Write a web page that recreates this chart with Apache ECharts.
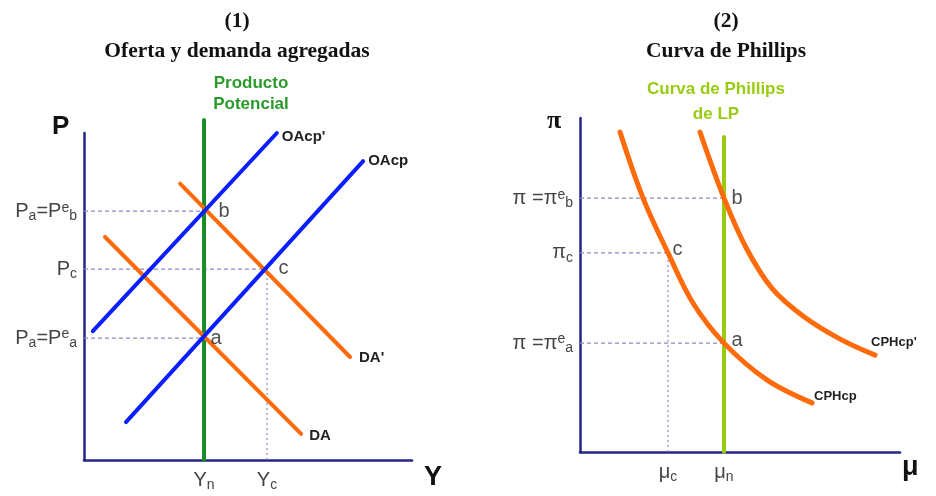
<!DOCTYPE html>
<html>
<head>
<meta charset="utf-8">
<script src="https://cdn.jsdelivr.net/npm/echarts@6/dist/echarts.min.js"></script>
<style>html,body{margin:0;padding:0;background:#fff}#c{width:936px;height:496px}</style>
</head>
<body>
<div id="c"></div>
<script>
// ---- Panel 1: Oferta y demanda agregadas ----
const Yn = 36.6, Yc = 55.8;
const Pa = 37.3, Pc = 58.4, Pb = 76.1;
const xTicks1 = [Yn, Yc];
const xTickLabels1 = ['Y{sub|n}', 'Y{sub|c}'];
const yTicks1 = [Pa, Pc, Pb];
const yTickLabels1 = ['P{sub|a}=P{sup|e}{sub|a}', 'P{sub|c}', 'P{sub|a}=P{sup|e}{sub|b}'];
const OAcp = [[12.8, 11.6], [85.1, 91.4]];
const OAcpPrime = [[2.7, 39.4], [58.8, 100]];
const DA = [[6.4, 68.2], [66.2, 8.0]];
const DAPrime = [[29.3, 84.5], [81.1, 31.5]];
const ProductoPotencial = [[Yn, 0], [Yn, 104]];

// ---- Panel 2: Curva de Phillips ----
const mu_n = 45, mu_c = 27.5;
const pi_a = 32.6, pi_c = 59.6, pi_b = 76.0;
const xTicks2 = [mu_c, mu_n];
const xTickLabels2 = ['μ{sub|c}', 'μ{sub|n}'];
const yTicks2 = [pi_a, pi_c, pi_b];
const yTickLabels2 = ['π =π{sup|e}{sub|a}', 'π{sub|c}', 'π =π{sup|e}{sub|b}'];
const CPHcp = [[12.5, 95.8], [19.7, 76.0], [27.5, 59.6], [35.3, 44.6], [45, 32.6], [58.4, 21.6], [72.5, 14.7]];
const CPHcpPrime = [[37.5, 95.8], [45, 76.0], [52, 61.0], [60, 49.0], [70, 40.5], [81.3, 33.8], [92.2, 29.0]];
const CPLP = [[mu_n, 0], [mu_n, 94.3]];

const NAVY = '#23238c', BLUE = '#0a1eff', ORANGE = '#ff6a0a', GREEN = '#1a8c24', LIME = '#99cc11', GUIDE = '#8a8ac8';

const richTick = {
  sub: { fontSize: 14, padding: [10, 0, 0, 0], color: '#444', fontFamily: 'Liberation Sans' },
  sup: { fontSize: 14, padding: [0, 0, 7, 0], color: '#444', fontFamily: 'Liberation Sans' }
};
function lookup(vals, labels) {
  return function (v) {
    for (let i = 0; i < vals.length; i++) if (Math.abs(vals[i] - v) < 1e-6) return labels[i];
    return '';
  };
}
function xAxisCfg(gi, ticks, labels) {
  return {
    type: 'value', gridIndex: gi, min: 0, max: 100,
    axisLine: { show: true, lineStyle: { color: NAVY, width: 2.5 } },
    axisTick: { show: false }, splitLine: { show: false },
    axisLabel: { show: true, customValues: ticks, formatter: lookup(ticks, labels), margin: 8,
      fontSize: 20, color: '#444', fontFamily: 'Liberation Sans', rich: richTick }
  };
}
function yAxisCfg(gi, ticks, labels) {
  return {
    type: 'value', gridIndex: gi, min: 0, max: 100,
    axisLine: { show: true, lineStyle: { color: NAVY, width: 2.5 } },
    axisTick: { show: false }, splitLine: { show: false },
    axisLabel: { show: true, customValues: ticks, formatter: lookup(ticks, labels), margin: 7,
      fontSize: 20, color: '#444', fontFamily: 'Liberation Sans', rich: richTick }
  };
}
function guide(gi, data, dash) {
  return { type: 'line', xAxisIndex: gi, yAxisIndex: gi, data: data, showSymbol: false, silent: true, clip: false, z: 1,
    lineStyle: { color: GUIDE, width: 1.2, type: dash } };
}
function curve(gi, name, data, color, width, smooth, lbl) {
  return { type: 'line', name: name, xAxisIndex: gi, yAxisIndex: gi, data: data, showSymbol: false, smooth: smooth, clip: false, z: 3,
    lineStyle: { color: color, width: width, cap: 'round' },
    endLabel: lbl ? Object.assign({ show: true, formatter: name, fontWeight: 'bold', fontFamily: 'Liberation Sans', color: '#222' }, lbl) : { show: false } };
}
function points(gi, items) {
  return { type: 'scatter', xAxisIndex: gi, yAxisIndex: gi, symbolSize: 1, itemStyle: { color: 'rgba(0,0,0,0)' }, z: 5, silent: true,
    data: items.map(function (it) {
      return { value: it[0], label: { show: true, formatter: it[1], position: 'right', distance: it[2], offset: [0, it[3]],
        fontSize: 20, color: '#222', fontFamily: 'Liberation Sans' } };
    }) };
}

const chart = echarts.init(document.getElementById('c'));
chart.setOption({
  animation: false,
  backgroundColor: '#fff',
  title: [
    { text: '(1)\nOferta y demanda agregadas', left: 232, top: 1, textAlign: 'center',
      textStyle: { fontFamily: 'Liberation Serif', fontWeight: 'bold', fontSize: 21.5, lineHeight: 30, color: '#111' } },
    { text: '(2)\nCurva de Phillips', left: 721, top: 1, textAlign: 'center',
      textStyle: { fontFamily: 'Liberation Serif', fontWeight: 'bold', fontSize: 21.5, lineHeight: 30, color: '#111' } },
    { text: 'Producto\nPotencial', left: 246, top: 68, textAlign: 'center',
      textStyle: { fontFamily: 'Liberation Sans', fontWeight: 'bold', fontSize: 17, lineHeight: 21, color: '#2a9a2a' } },
    { text: 'Curva de Phillips\nde LP', left: 711, top: 72, textAlign: 'center',
      textStyle: { fontFamily: 'Liberation Sans', fontWeight: 'bold', fontSize: 17, lineHeight: 25, color: LIME } }
  ],
  graphic: [
    { type: 'text', left: 52, top: 114, style: { text: 'P', font: 'bold 26px "Liberation Sans"', fill: '#111' } },
    { type: 'text', left: 424, top: 464, style: { text: 'Y', font: 'bold 27px "Liberation Sans"', fill: '#111' } },
    { type: 'text', left: 547, top: 108, style: { text: 'π', font: 'bold 26px "Liberation Serif"', fill: '#111' } },
    { type: 'text', left: 902, top: 454, style: { text: 'μ', font: 'bold 27px "Liberation Sans"', fill: '#111' } }
  ],
  grid: [
    { left: 84, top: 133, width: 328, height: 327 },
    { left: 580, top: 118, width: 320, height: 334 }
  ],
  xAxis: [xAxisCfg(0, xTicks1, xTickLabels1), xAxisCfg(1, xTicks2, xTickLabels2)],
  yAxis: [yAxisCfg(0, yTicks1, yTickLabels1), yAxisCfg(1, yTicks2, yTickLabels2)],
  series: [
    guide(0, [[0, Pb], [Yn, Pb]], [4, 3]),
    guide(0, [[0, Pc], [Yc, Pc]], [4, 3]),
    guide(0, [[0, Pa], [Yn, Pa]], [4, 3]),
    guide(0, [[Yc, 0], [Yc, Pc]], [2, 3]),
    curve(0, 'Producto Potencial', ProductoPotencial, GREEN, 4, false, null),
    curve(0, 'DA', DA, ORANGE, 4, false, { fontSize: 15, distance: 8, offset: [0, 2] }),
    curve(0, "DA'", DAPrime, ORANGE, 4, false, { fontSize: 15, distance: 9, offset: [0, 1] }),
    curve(0, 'OAcp', OAcp, BLUE, 4, false, { fontSize: 15, distance: 5, offset: [0, 0] }),
    curve(0, "OAcp'", OAcpPrime, BLUE, 4, false, { fontSize: 15, distance: 5, offset: [0, 4] }),
    points(0, [[[Yn, Pb], 'b', 14, 0], [[Yn, Pa], 'a', 6, 0], [[Yc, Pc], 'c', 11, -1]]),

    guide(1, [[0, pi_b], [mu_n, pi_b]], [4, 3]),
    guide(1, [[0, pi_c], [mu_c, pi_c]], [4, 3]),
    guide(1, [[0, pi_a], [mu_n, pi_a]], [4, 3]),
    guide(1, [[mu_c, 0], [mu_c, pi_c]], [2, 3]),
    curve(1, 'Curva de Phillips de LP', CPLP, LIME, 4, false, null),
    curve(1, 'CPHcp', CPHcp, ORANGE, 5, 0.35, { fontSize: 13, distance: 2, offset: [0, -6] }),
    curve(1, "CPHcp'", CPHcpPrime, ORANGE, 5, 0.35, { fontSize: 13, distance: -4, offset: [0, -13] }),
    points(1, [[[mu_n, pi_b], 'b', 7, 0], [[mu_c, pi_c], 'c', 4, -3], [[mu_n, pi_a], 'a', 7, -3]])
  ]
});
</script>
</body>
</html>
